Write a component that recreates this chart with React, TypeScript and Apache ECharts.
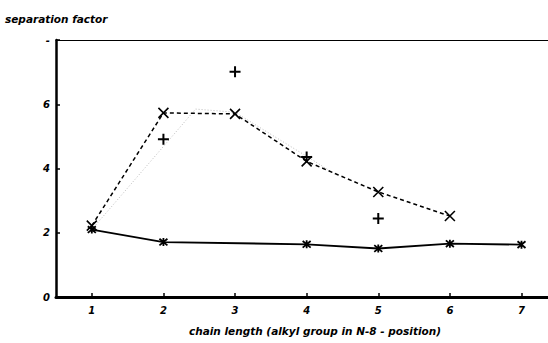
import React, { useEffect, useRef } from "react";
import * as echarts from "echarts";

const chainLengths = [1, 2, 3, 4, 5, 6, 7];
const solidX = [1, 2, 4, 5, 6, 7];
const solidY = [2.1, 1.71, 1.64, 1.51, 1.66, 1.63];
const dashedX = [1, 2, 3, 4, 5, 6];
const dashedY = [2.22, 5.73, 5.7, 4.22, 3.27, 2.52];
const plusX = [2, 3, 4, 5];
const plusY = [4.91, 7.01, 4.36, 2.44];
const faintX = [1, 2.45, 3, 4, 4.45];
const faintY = [2.1, 5.85, 5.75, 4.38, 3.75];
const yTicks = [0, 2, 4, 6, 8];

const FONT = "DejaVu Sans";
const CROSS = "path://M0,0L10,10M10,0L0,10";
const STAR = "path://M0,0L10,10M10,0L0,10M5,-1L5,11";
const PLUS = "path://M5,0L5,10M0,5L10,5";

export default function App() {
  const ref = useRef<HTMLDivElement>(null);
  useEffect(() => {
    if (!ref.current) return;
    const chart = echarts.init(ref.current, undefined, { renderer: "svg" });
    const zip = (xs: number[], ys: number[]) => xs.map((x, i) => [x, ys[i]]);
    const labelStyle = {
      fontFamily: FONT,
      fontStyle: "italic" as const,
      fontWeight: "bold" as const,
      fontSize: 10,
      color: "#000",
    };
    chart.setOption({
      animation: false,
      backgroundColor: "#fff",
      title: {
        text: "separation factor",
        left: 0,
        top: 8,
        textStyle: { ...labelStyle, fontSize: 10.5 },
      },
      grid: { left: 56, right: 0, top: 40, bottom: 46 },
      xAxis: [
        {
          type: "value",
          min: 0.5,
          max: 7.37,
          name: "chain length (alkyl group in N-8 - position)",
          nameLocation: "middle",
          nameGap: 28,
          nameTextStyle: { ...labelStyle, fontSize: 10.5, padding: [0, 0, 0, 26] },
          axisLine: { show: true, lineStyle: { color: "#000", width: 3 } },
          axisTick: {
            show: true,
            inside: true,
            length: 4,
            customValues: chainLengths,
            lineStyle: { color: "#000", width: 1.5 },
          },
          axisLabel: { ...labelStyle, customValues: chainLengths, margin: 8 },
          splitLine: { show: false },
        },
        {
          type: "value",
          position: "top",
          min: 0.5,
          max: 7.37,
          axisLine: { show: true, onZero: false, lineStyle: { color: "#000", width: 1.2 } },
          axisTick: { show: false },
          axisLabel: { show: false },
          splitLine: { show: false },
        },
      ],
      yAxis: {
        type: "value",
        min: 0,
        max: 8,
        interval: 2,
        axisLine: { show: true, lineStyle: { color: "#000", width: 2.5 } },
        axisTick: {
          show: true,
          inside: true,
          length: 4,
          customValues: yTicks,
          lineStyle: { color: "#000", width: 1.5 },
        },
        axisLabel: {
          ...labelStyle,
          margin: 6,
          formatter: (v: number) => (v === 8 ? "-" : String(v)),
        },
        splitLine: { show: false },
      },
      series: [
        {
          type: "line",
          data: zip(faintX, faintY),
          symbol: "none",
          lineStyle: { color: "#bbb", width: 1, type: [1, 2] },
          z: 1,
        },
        {
          type: "line",
          data: zip(solidX, solidY),
          symbol: STAR,
          symbolSize: 8,
          itemStyle: { color: "none", borderColor: "#000", borderWidth: 1.8 },
          lineStyle: { color: "#000", width: 1.8 },
          z: 3,
        },
        {
          type: "line",
          data: zip(dashedX, dashedY),
          symbol: CROSS,
          symbolSize: 10,
          itemStyle: { color: "none", borderColor: "#000", borderWidth: 1.6 },
          lineStyle: { color: "#000", width: 1.5, type: [4, 3] },
          z: 2,
        },
        {
          type: "scatter",
          data: zip(plusX, plusY),
          symbol: PLUS,
          symbolSize: 11,
          itemStyle: { color: "none", borderColor: "#000", borderWidth: 2, opacity: 1 },
          z: 4,
        },
      ],
    });
    return () => chart.dispose();
  }, []);
  return (
    <div
      ref={ref}
      style={{ position: "fixed", left: 0, top: 0, width: 548, height: 343 }}
    />
  );
}
